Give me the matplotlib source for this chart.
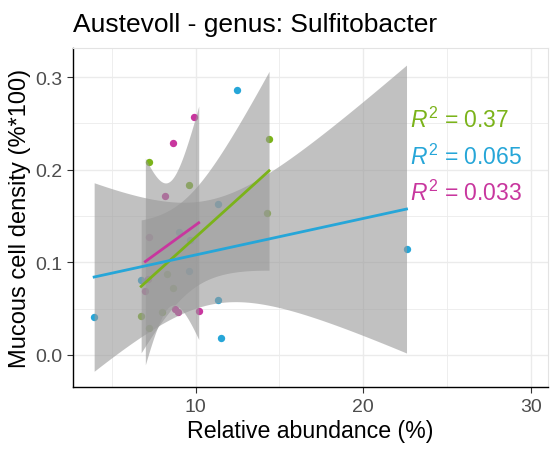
import numpy as np
import matplotlib
matplotlib.use("Agg")
import matplotlib.pyplot as plt

plt.rcParams["font.family"] = ["Liberation Sans", "DejaVu Sans"]
plt.rcParams["mathtext.fontset"] = "custom"
plt.rcParams["mathtext.rm"] = "Liberation Sans"
plt.rcParams["mathtext.it"] = "Liberation Sans:italic"

# relative abundance (%) vs mucous cell density, three sample groups
green_x = [6.76, 7.25, 7.25, 8.02, 8.29, 8.68, 9.61, 14.38, 14.27]
green_y = [0.0424, 0.0288, 0.208, 0.046, 0.0875, 0.072, 0.1836, 0.233, 0.153]

blue_x = [3.96, 6.76, 9.04, 9.67, 9.61, 11.32, 11.32, 11.52, 12.45, 22.57]
blue_y = [0.0414, 0.0807, 0.133, 0.1245, 0.0907, 0.163, 0.0597, 0.0184, 0.2865, 0.1145]

magenta_x = [7.01, 7.15, 7.25, 8.20, 8.68, 8.78, 8.94, 9.91, 10.19]
magenta_y = [0.0688, 0.082, 0.127, 0.172, 0.2286, 0.0497, 0.046, 0.2573, 0.048]

r2_labels = ["0.37", "0.065", "0.033"]
x_ticks = [10, 20, 30]
y_ticks = [0.0, 0.1, 0.2, 0.3]

GREEN = "#7BB31A"
BLUE = "#26A6D8"
MAGENTA = "#C8369E"

# two-sided 95% t quantiles by residual degrees of freedom
T975 = {7: 2.3646, 8: 2.3060}


def lm_band(x, y, n_pts=80):
    x = np.asarray(x, float)
    y = np.asarray(y, float)
    n = len(x)
    slope, icept = np.polyfit(x, y, 1)
    resid = y - (icept + slope * x)
    s = np.sqrt(np.sum(resid ** 2) / (n - 2))
    sxx = np.sum((x - x.mean()) ** 2)
    xs = np.linspace(x.min(), x.max(), n_pts)
    fit = icept + slope * xs
    se = s * np.sqrt(1.0 / n + (xs - x.mean()) ** 2 / sxx)
    ci = T975[n - 2] * se
    return xs, fit, fit - ci, fit + ci


fig = plt.figure(figsize=(5.5, 4.56), dpi=100)
ax = fig.add_axes([73 / 550, 1 - 388 / 456, 475 / 550, 339 / 456])

groups = [(green_x, green_y, GREEN), (blue_x, blue_y, BLUE), (magenta_x, magenta_y, MAGENTA)]

for gx, gy, col in groups:
    ax.scatter(gx, gy, s=28, color=col, linewidths=0, zorder=2)

bands = [lm_band(gx, gy) for gx, gy, _ in groups]
for xs, fit, lo, hi in bands:
    ax.fill_between(xs, lo, hi, color="#999999", alpha=0.6, linewidth=0, zorder=3)
for (xs, fit, lo, hi), (_, _, col) in zip(bands, groups):
    ax.plot(xs, fit, color=col, linewidth=2.0, zorder=4)

label_y = [0.255, 0.215, 0.176]
for txt, ly, (_, _, col) in zip(r2_labels, label_y, groups):
    ax.text(22.8, ly, r"$R^2$ = " + txt, color=col, fontsize=16.5, ha="left", va="center", zorder=5)

ax.set_xlim(2.7, 31.0)
ax.set_ylim(-0.0346, 0.3315)
ax.set_xticks(x_ticks)
ax.set_xticks([5, 15, 25], minor=True)
ax.set_yticks(y_ticks)
ax.set_yticks([0.05, 0.15, 0.25], minor=True)
ax.set_yticklabels([f"{v:.1f}" for v in y_ticks])

ax.grid(which="major", color="#EBEBEB", linewidth=1.0)
ax.grid(which="minor", color="#EBEBEB", linewidth=0.6)
ax.set_axisbelow(True)
ax.tick_params(which="major", direction="out", length=4, width=0.8, color="#333333",
               labelcolor="#4D4D4D", labelsize=14, pad=4)
ax.tick_params(which="minor", length=0)

for side in ["top", "right"]:
    ax.spines[side].set_color("#E3E3E3")
    ax.spines[side].set_linewidth(0.8)
for side in ["left", "bottom"]:
    ax.spines[side].set_color("black")
    ax.spines[side].set_linewidth(1.0)

ax.set_xlabel("Relative abundance (%)", fontsize=16.7, labelpad=3)
ax.set_ylabel("Mucous cell density (%*100)", fontsize=17, labelpad=3)
fig.text(73 / 550, 1 - 32 / 456, "Austevoll - genus: Sulfitobacter", fontsize=19,
         ha="left", va="baseline")

fig.savefig("out.png", dpi=100)
